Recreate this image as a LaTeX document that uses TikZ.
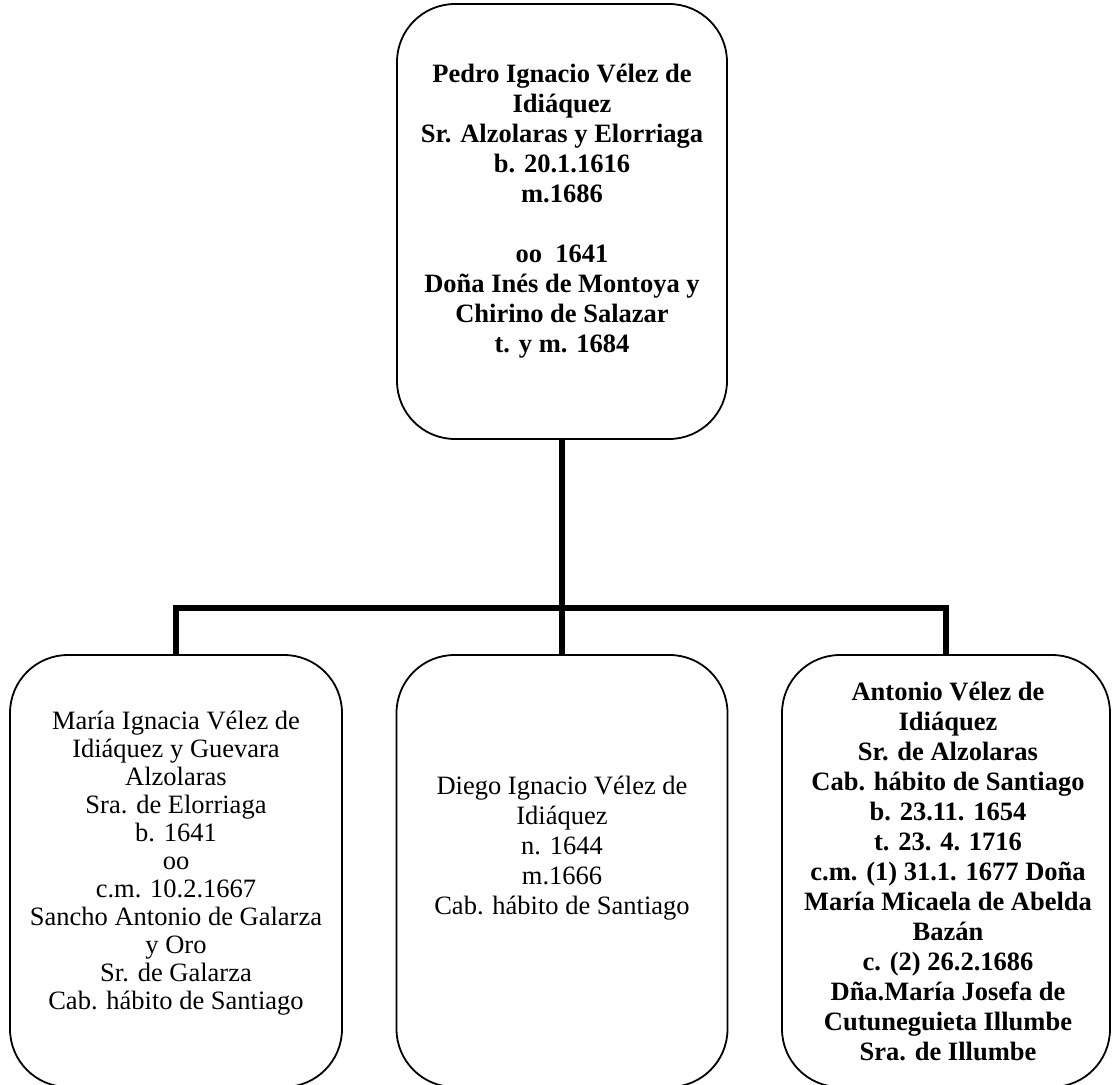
\documentclass[tikz,border=0pt]{standalone}
\usepackage{fontspec}
\setmainfont{Liberation Serif}
\begin{document}
\begin{tikzpicture}[x=1pt,y=-1pt,
  box/.style={draw, line width=1.8pt, rounded corners=58pt, inner sep=0pt},
  conn/.style={line width=6.5pt},
  txtb/.style={align=center, inner sep=0pt, anchor=north, font=\fontsize{26.5}{30}\selectfont\bfseries},
  txtr/.style={align=center, inner sep=0pt, anchor=north, font=\fontsize{26.5}{28}\selectfont}]
\useasboundingbox (0,0) rectangle (1113,1084);

% boxes
\node[box, minimum width=330pt, minimum height=435pt] (top) at (562,221.5) {};
\node[box, minimum width=332pt, minimum height=432pt] (left) at (176,871) {};
\node[box, minimum width=331pt, minimum height=432pt] (mid) at (562,871) {};
\node[box, minimum width=328pt, minimum height=432pt] (right) at (946,871) {};

% texts
\node[txtb] (topT) at (562,57) {\rule{0pt}{25pt}Pedro Ignacio Vélez de\\ Idiáquez\\ Sr. Alzolaras y Elorriaga\\ b. 20.1.1616\\ m.1686\\ \mbox{}\\ oo~~1641\\ Doña Inés de Montoya y\\ Chirino de Salazar\\ t. y m. 1684};

\node[txtr] (leftT) at (176,704) {\rule{0pt}{25pt}María Ignacia Vélez de\\ Idiáquez y Guevara\\ Alzolaras\\ Sra. de Elorriaga\\ b. 1641\\ oo\\ c.m. 10.2.1667\\ Sancho Antonio de Galarza\\ y Oro\\ Sr. de Galarza\\ Cab. hábito de Santiago};

\node[txtr, font=\fontsize{26.5}{30}\selectfont] (midT) at (562,769) {\rule{0pt}{25pt}Diego Ignacio Vélez de\\ Idiáquez\\ n. 1644\\ m.1666\\ Cab. hábito de Santiago};

\node[txtb] (rightT) at (948,675) {\rule{0pt}{25pt}Antonio Vélez de\\ Idiáquez\\ Sr. de Alzolaras\\ Cab. hábito de Santiago\\ b. 23.11. 1654\\ t. 23. 4. 1716\\ c.m. (1) 31.1. 1677 Doña\\ María Micaela de Abelda\\ Bazán\\ c. (2) 26.2.1686\\ Dña.María Josefa de\\ Cutuneguieta Illumbe\\ Sra. de Illumbe};

% connectors
\coordinate (hub) at (562,608);
\draw[conn] (top.south) -- (hub);
\draw[conn] (hub) -| (left.north);
\draw[conn] (hub) -| (right.north);
\draw[conn] (hub) -- (mid.north);
\end{tikzpicture}
\end{document}
